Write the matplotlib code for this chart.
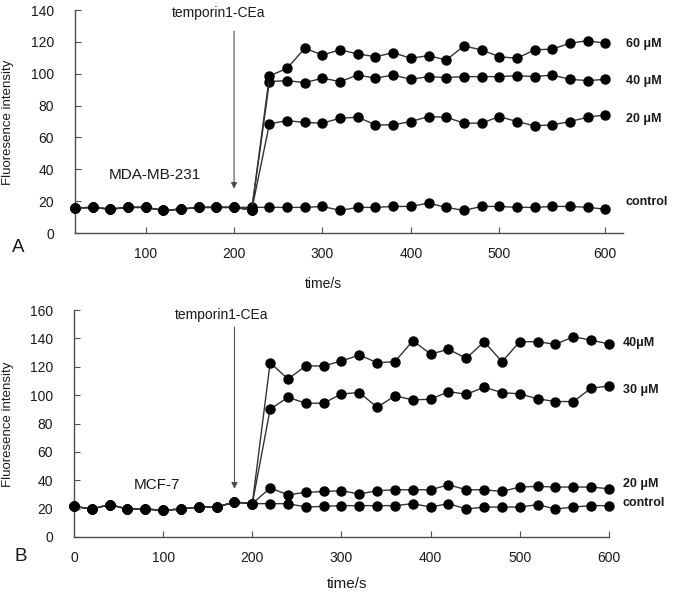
import numpy as np
import matplotlib
matplotlib.use("Agg")
import matplotlib.pyplot as plt

plt.rcParams['font.family'] = ['Liberation Sans', 'DejaVu Sans']

# ---- panel A : MDA-MB-231 ----
# time points (the last point sits under the "600" label in the original)
time_a = np.arange(20, 621, 20)
pre_a = [15.7, 16.1, 15.0, 16.1, 16.1, 14.2, 15.0, 16.1, 16.1, 16.1]
ctrl_a = pre_a + [16.1, 16.1, 16.1, 16.1, 16.7, 14.2, 16.1, 16.1, 16.7, 16.7,
                  18.8, 16.1, 14.2, 16.7, 16.7, 16.1, 16.1, 16.7, 16.7, 16.1, 15.0]
um20_a = pre_a + [14.5, 68.5, 70.6, 69.4, 69.0, 72.1, 72.7, 67.9, 67.9, 70.0,
                  73.1, 72.7, 69.0, 69.0, 73.1, 70.0, 67.3, 67.9, 70.0, 72.7, 74.2]
um40_a = pre_a + [14.5, 95.1, 95.7, 94.4, 97.2, 95.1, 99.2, 97.2, 99.2, 96.5,
                  98.2, 97.6, 98.2, 98.2, 98.2, 98.8, 98.2, 99.2, 96.5, 95.7, 96.5]
um60_a = pre_a + [14.5, 98.6, 103.4, 116.0, 111.8, 115.0, 112.4, 110.7, 113.2, 109.7,
                  111.4, 108.6, 117.4, 115.0, 110.7, 109.7, 115.0, 115.5, 119.1, 120.8, 119.1]
series_a = [ctrl_a, um20_a, um40_a, um60_a]
names_a = ["control", "20 μM", "40 μM", "60 μM"]
label_y_a = [19.6, 71.4, 95.4, 118.6]
ticks_a = [100, 200, 300, 400, 500, 620]
ticklabels_a = ["100", "200", "300", "400", "500", "600"]

# ---- panel B : MCF-7 ----
time_b = np.arange(0, 601, 20)
pre_b = [21.6, 19.7, 22.8, 19.7, 19.7, 18.8, 19.7, 21.1, 21.1, 24.6, 23.5]
ctrl_b = pre_b + [23.5, 23.5, 21.1, 21.6, 22.1, 22.1, 22.1, 22.1, 23.5, 21.1,
                  23.5, 19.7, 21.1, 21.1, 21.1, 22.8, 19.7, 21.1, 22.1, 22.1]
um20_b = pre_b + [34.5, 29.8, 31.4, 32.1, 32.6, 30.3, 32.6, 33.3, 33.3, 33.3,
                  36.8, 33.3, 33.3, 32.1, 35.2, 35.7, 35.2, 35.2, 35.2, 34.0]
um30_b = pre_b + [90.1, 98.5, 94.3, 94.3, 100.9, 101.8, 91.5, 99.5, 96.7, 97.1,
                  102.5, 100.6, 105.6, 101.8, 100.9, 97.4, 95.5, 95.5, 104.9, 106.5]
um40_b = pre_b + [122.9, 111.4, 120.6, 120.6, 124.1, 128.3, 122.9, 123.6, 138.4, 129.0,
                  132.3, 126.0, 137.7, 123.6, 137.7, 137.7, 135.8, 141.2, 138.8, 136.1]
series_b = [ctrl_b, um20_b, um30_b, um40_b]
names_b = ["control", "20 μM", "30 μM", "40μM"]
label_y_b = [23.9, 37.5, 103.7, 137.0]

fig = plt.figure(figsize=(6.75, 5.94), dpi=100)
axA = fig.add_axes([0.111, 0.6077, 0.812, 0.3754])
axB = fig.add_axes([0.1096, 0.096, 0.7926, 0.382])


def style(ax):
    for s in ['top', 'right']:
        ax.spines[s].set_visible(False)
    for s in ['left', 'bottom']:
        ax.spines[s].set_color('0.3')
        ax.spines[s].set_linewidth(1.0)
    ax.tick_params(axis='y', direction='in', length=4, width=0.8, color='0.3',
                   labelsize=10, pad=15, labelcolor='0.1')
    ax.tick_params(axis='x', direction='in', length=4, width=0.8, color='0.3',
                   labelsize=10, pad=10, labelcolor='0.1')


for ys in series_a:
    axA.plot(time_a, ys, color='0.2', lw=1.0, marker='o', ms=6.5,
             mfc='black', mec='black', clip_on=False, zorder=3)
for name, ly in zip(names_a, label_y_a):
    axA.text(643, ly, name, fontsize=9, fontweight='bold', va='center', ha='left',
             color='0.1')
axA.set_xlim(20, 640)
axA.set_ylim(0, 140)
axA.set_yticks(np.arange(0, 141, 20))
axA.set_xticks(ticks_a)
axA.set_xticklabels(ticklabels_a)
style(axA)
axA.set_ylabel("Fluoresence intensity", fontsize=9.5, color='0.1', va='center')
axA.yaxis.set_label_coords(-0.122, 0.495)
axA.set_xlabel("time/s", fontsize=10, color='0.1')
axA.xaxis.set_label_coords(0.453, -0.197)
axA.annotate("", xy=(200, 26), xytext=(200, 128.5),
             arrowprops=dict(arrowstyle='-|>', color='0.3', lw=0.8, mutation_scale=9))
axA.text(183, 138, "temporin1-CEa", fontsize=10, ha='center', va='center', color='0.1')
axA.text(110, 36.6, "MDA-MB-231", fontsize=11, ha='center', va='center', color='0.1')

for ys in series_b:
    axB.plot(time_b, ys, color='0.2', lw=1.0, marker='o', ms=6.5,
             mfc='black', mec='black', clip_on=False, zorder=3)
for name, ly in zip(names_b, label_y_b):
    axB.text(615.5, ly, name, fontsize=9, fontweight='bold', va='center', ha='left',
             color='0.1')
axB.set_xlim(0, 600)
axB.set_ylim(0, 160)
axB.set_yticks(np.arange(0, 161, 20))
axB.set_xticks(np.arange(0, 601, 100))
style(axB)
axB.set_ylabel("Fluoresence intensity", fontsize=9.5, color='0.1', va='center')
axB.yaxis.set_label_coords(-0.123, 0.495)
axB.set_xlabel("time/s", fontsize=11, color='0.1')
axB.xaxis.set_label_coords(0.51, -0.175)
axB.annotate("", xy=(180, 32), xytext=(180, 150),
             arrowprops=dict(arrowstyle='-|>', color='0.3', lw=0.8, mutation_scale=9))
axB.text(166, 156.5, "temporin1-CEa", fontsize=10, ha='center', va='center', color='0.1')
axB.text(93, 36.8, "MCF-7", fontsize=11, ha='center', va='center', color='0.1')

fig.text(18 / 675, 1 - 248 / 594, "A", fontsize=13.5, ha='center', va='center', color='0.1')
fig.text(20.7 / 675, 1 - 556.7 / 594, "B", fontsize=13.5, ha='center', va='center', color='0.1')

fig.savefig("out.png", dpi=100)
